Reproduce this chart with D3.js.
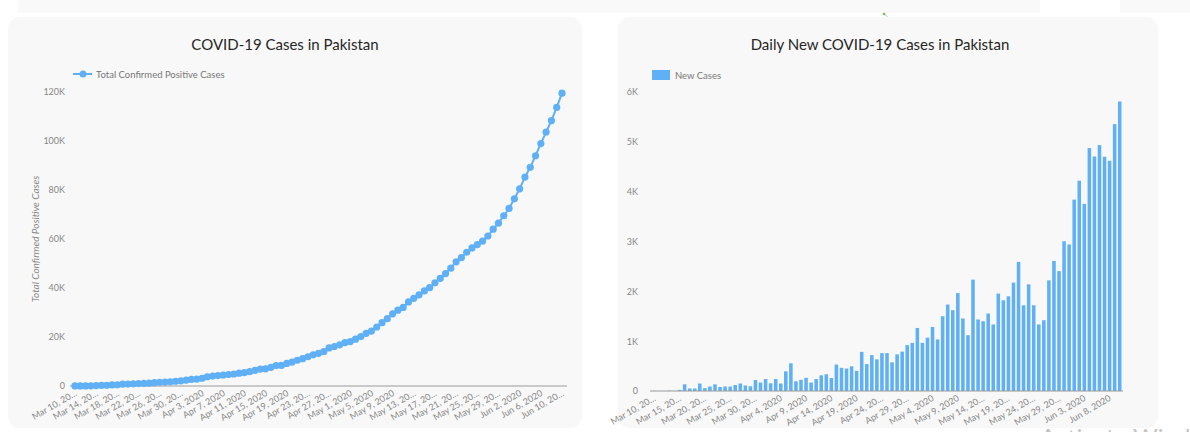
<!DOCTYPE html>
<html>
<head>
	<meta charset="utf-8">
	<title>COVID-19 Pakistan</title>
	<script src="https://d3js.org/d3.v7.min.js"></script>
	<style>
		body { margin: 0; background: #fff; }
		svg { display: block; font-family: Lato, 'Open Sans', sans-serif; }
	</style>
</head>
<body>
	<div class="chart"></div>

	<script type="text/javascript">

		// total confirmed cases, Mar 10 .. Jun 10 2020
		const totalCases = [
			21, 28, 31, 53, 187, 237, 299, 454, 501, 730,
			776, 875, 972, 1063, 1201, 1373, 1495, 1597, 1717, 1938,
			2118, 2421, 2686, 2818, 3157, 3766, 4035, 4263, 4489, 4695,
			4892, 5230, 5496, 5837, 6383, 6919, 7025, 7638, 8348, 8418,
			9216, 9749, 10513, 11155, 11940, 12723, 13328, 14079, 15525, 16117,
			16817, 17699, 18114, 19103, 20186, 21501, 22413, 24073, 25837, 27474,
			29465, 30941, 32081, 34336, 35788, 37218, 38799, 40151, 42125, 43966,
			45898, 48091, 50694, 52437, 54601, 56349, 57705, 59151, 61227, 64028,
			66457, 69496, 72460, 76398, 80463, 85264, 89249, 93983, 98943, 103671,
			108317, 113702, 119536
		]

		// daily new cases, same days
		const newCases = [
			2, 1, 1, 7, 3, 22, 134, 50, 50, 150,
			58, 90, 134, 80, 90, 88, 120, 150, 110, 95,
			220, 170, 240, 155, 240, 150, 395, 555, 195, 225,
			265, 170, 240, 315, 335, 260, 530, 465, 450, 495,
			405, 785, 540, 720, 635, 760, 760, 575, 735, 790,
			920, 965, 1265, 965, 1070, 1285, 1035, 1500, 1735, 1620,
			1965, 1455, 1120, 2235, 1435, 1400, 1555, 1335, 1955, 1820,
			1900, 2175, 2590, 1720, 2140, 1720, 1335, 1420, 2220, 2610,
			2405, 3005, 2940, 3840, 4220, 3755, 4875, 4705, 4935, 4700,
			4620, 5355, 5810
		]

		const lineTickLabels = [
			'Mar 10, 20…', 'Mar 14, 20…', 'Mar 18, 20…', 'Mar 22, 20…', 'Mar 26, 20…', 'Mar 30, 20…',
			'Apr 3, 2020', 'Apr 7, 2020', 'Apr 11, 2020', 'Apr 15, 2020', 'Apr 19, 2020', 'Apr 23, 20…',
			'Apr 27, 20…', 'May 1, 2020', 'May 5, 2020', 'May 9, 2020', 'May 13, 20…', 'May 17, 20…',
			'May 21, 20…', 'May 25, 20…', 'May 29, 20…', 'Jun 2, 2020', 'Jun 6, 2020', 'Jun 10, 20…'
		]
		const barTickLabels = [
			'Mar 10, 20…', 'Mar 15, 20…', 'Mar 20, 20…', 'Mar 25, 20…', 'Mar 30, 20…', 'Apr 4, 2020',
			'Apr 9, 2020', 'Apr 14, 2020', 'Apr 19, 2020', 'Apr 24, 20…', 'Apr 29, 20…', 'May 4, 2020',
			'May 9, 2020', 'May 14, 20…', 'May 19, 20…', 'May 24, 20…', 'May 29, 20…', 'Jun 3, 2020',
			'Jun 8, 2020'
		]
		const lineYTicks = [0, 20000, 40000, 60000, 80000, 100000, 120000]
		const barYTicks = [0, 1000, 2000, 3000, 4000, 5000, 6000]

		var width = 1190
		var height = 432
		var blue = '#5fb0f5'
		var kFormat = (d) => (d === 0 ? '0' : d / 1000 + 'K')

		var days = totalCases.map((d, i) => i)

		var svg = d3
			.select('.chart')
			.append('svg')
			.attr('width', width)
			.attr('height', height)

		// page bits around the cards
		svg.append('rect').attr('x', 18).attr('y', 0).attr('width', 1022).attr('height', 13).attr('fill', '#f9f9f9')
		svg.append('rect').attr('x', 1120).attr('y', 0).attr('width', 70).attr('height', 13).attr('fill', '#f9f9f9')
		svg.append('line').attr('x1', 884).attr('y1', 13).attr('x2', 889).attr('y2', 19).attr('stroke', '#8fd0e0')
		svg.append('circle').attr('cx', 884).attr('cy', 14).attr('r', 1.3).attr('fill', '#7cc04a')

		svg.append('rect').attr('x', 8).attr('y', 17).attr('width', 574).attr('height', 411).attr('rx', 12).attr('fill', '#f8f8f8')
		svg.append('rect').attr('x', 618).attr('y', 17).attr('width', 540).attr('height', 411).attr('rx', 12).attr('fill', '#f8f8f8')

		/**
		 * left: cumulative line
		 */
		var x1 = d3.scaleLinear().domain([0, days.length - 1]).range([75, 562])
		var y1 = d3.scaleLinear().domain([0, 120000]).range([386, 92])

		svg.append('text')
			.attr('x', 285).attr('y', 50)
			.attr('text-anchor', 'middle')
			.attr('font-size', 15)
			.attr('fill', '#262626')
			.text('COVID-19 Cases in Pakistan')

		var leg1 = svg.append('g')
		leg1.append('line').attr('x1', 73).attr('x2', 92).attr('y1', 74).attr('y2', 74).attr('stroke', blue).attr('stroke-width', 2)
		leg1.append('circle').attr('cx', 83).attr('cy', 74).attr('r', 3.5).attr('fill', blue)
		leg1.append('text').attr('x', 96).attr('y', 77.5).attr('font-size', 9.5).attr('fill', '#777').text('Total Confirmed Positive Cases')

		svg.append('g')
			.attr('transform', 'translate(68,0)')
			.call(d3.axisLeft(y1).tickValues(lineYTicks).tickFormat(kFormat).tickSize(0))
			.call((g) => g.select('.domain').remove())
			.selectAll('text')
			.attr('font-size', 9)
			.attr('fill', '#888')
			.attr('font-family', 'Lato, sans-serif')

		svg.append('text')
			.attr('transform', 'translate(39,239) rotate(-90)')
			.attr('text-anchor', 'middle')
			.attr('font-size', 10)
			.attr('font-style', 'italic')
			.attr('fill', '#888')
			.text('Total Confirmed Positive Cases')

		var xAxis1 = svg.append('g')
			.attr('transform', 'translate(0,386)')
			.call(d3.axisBottom(x1)
				.tickValues(days.filter((d) => d % 4 === 0))
				.tickFormat((d) => lineTickLabels[d / 4])
				.tickSize(0))
		xAxis1.select('.domain').attr('stroke', '#9a9a9a').attr('d', 'M70,0H567')
		xAxis1.selectAll('text')
			.attr('font-size', 9)
			.attr('fill', '#888')
			.attr('font-family', 'Lato, sans-serif')
			.attr('text-anchor', 'end')
			.attr('dy', null)
			.attr('y', 0)
			.attr('transform', 'translate(2,9) rotate(-30)')

		svg.append('path')
			.datum(totalCases)
			.attr('fill', 'none')
			.attr('stroke', blue)
			.attr('stroke-width', 2)
			.attr('d', d3.line().x((d, i) => x1(i)).y((d) => y1(d)))

		svg.append('g')
			.selectAll('circle')
			.data(totalCases)
			.join('circle')
			.attr('cx', (d, i) => x1(i))
			.attr('cy', (d) => y1(d))
			.attr('r', 3.6)
			.attr('fill', blue)

		/**
		 * right: daily bars
		 */
		var x2 = d3.scaleBand().domain(days).range([652, 1122]).paddingInner(0.3).paddingOuter(0.1)
		var y2 = d3.scaleLinear().domain([0, 6000]).range([391, 92])

		svg.append('text')
			.attr('x', 880).attr('y', 50)
			.attr('text-anchor', 'middle')
			.attr('font-size', 15)
			.attr('fill', '#262626')
			.text('Daily New COVID-19 Cases in Pakistan')

		svg.append('rect').attr('x', 652).attr('y', 70).attr('width', 18).attr('height', 10).attr('fill', blue)
		svg.append('text').attr('x', 675).attr('y', 78.5).attr('font-size', 9.5).attr('fill', '#777').text('New Cases')

		svg.append('g')
			.attr('transform', 'translate(641,0)')
			.call(d3.axisLeft(y2).tickValues(barYTicks).tickFormat(kFormat).tickSize(0))
			.call((g) => g.select('.domain').remove())
			.selectAll('text')
			.attr('font-size', 9)
			.attr('fill', '#888')
			.attr('font-family', 'Lato, sans-serif')

		svg.append('g')
			.selectAll('rect')
			.data(newCases)
			.join('rect')
			.attr('x', (d, i) => x2(i))
			.attr('y', (d) => y2(d))
			.attr('width', x2.bandwidth())
			.attr('height', (d) => y2(0) - y2(d))
			.attr('fill', blue)

		var xAxis2 = svg.append('g')
			.attr('transform', 'translate(0,391)')
			.call(d3.axisBottom(x2)
				.tickValues(days.filter((d) => d % 5 === 0))
				.tickFormat((d) => barTickLabels[d / 5])
				.tickSize(0))
		xAxis2.select('.domain').attr('stroke', '#9a9a9a').attr('d', 'M650,0H1123')
		xAxis2.selectAll('text')
			.attr('font-size', 9)
			.attr('fill', '#888')
			.attr('font-family', 'Lato, sans-serif')
			.attr('text-anchor', 'end')
			.attr('dy', null)
			.attr('y', 0)
			.attr('transform', 'translate(2,9) rotate(-30)')

		// watermark peeking in at the bottom
		svg.append('text')
			.attr('x', 1040).attr('y', 446)
			.attr('font-size', 24)
			.attr('fill', '#c4c4c4')
			.text('Activate Windows')

	</script>
</body>
</html>
